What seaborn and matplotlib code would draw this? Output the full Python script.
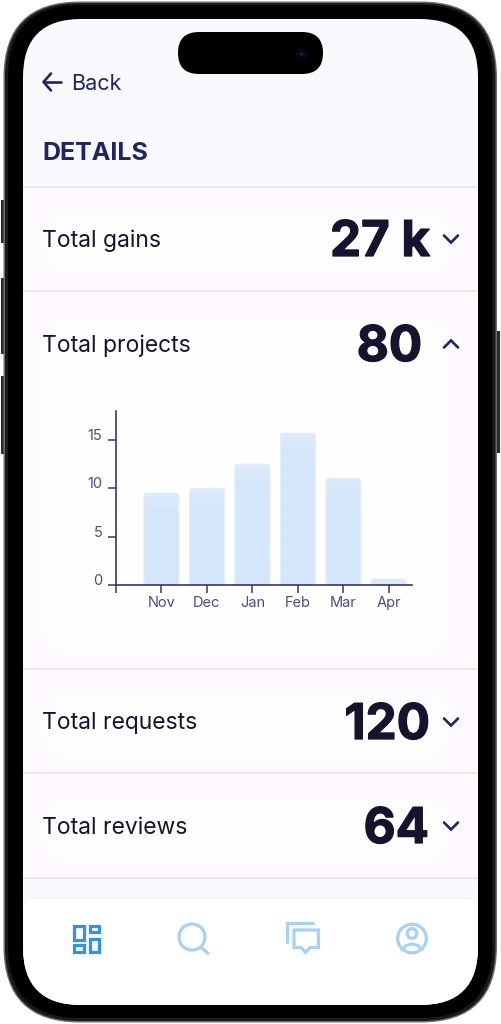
import matplotlib
matplotlib.use("Agg")
import matplotlib.pyplot as plt
import matplotlib.patheffects as pe
import numpy as np
import seaborn as sns
from matplotlib.colors import LinearSegmentedColormap
from matplotlib.patches import FancyBboxPatch, Rectangle, Circle, Polygon

months = ["Nov", "Dec", "Jan", "Feb", "Mar", "Apr"]
projects = [9.5, 10, 12.5, 15.7, 11, 0.6]
y_ticks = [0, 5, 10, 15]

row_labels = ["Total gains", "Total projects", "Total requests", "Total reviews"]
row_values = ["27 k", "80", "120", "64"]
row_text_y = [238, 343, 721, 825]
row_value_right = [430, 422, 430, 429]
row_lines = [186.5, 290.5, 669, 773, 878]

NAVY = "#1f2466"
INK = "#15132e"
TICK = "#4a4b88"
BAR = "#d4e7fa"
BAR_TOP = "#dcebfc"
FONT = "Inter"

sns.set_theme(style="white")
plt.rcParams["font.family"] = [FONT, "DejaVu Sans"]

fig = plt.figure(figsize=(5.01, 10.24), dpi=100, facecolor="white")
ui = fig.add_axes([0, 0, 1, 1])
ui.set_xlim(0, 501)
ui.set_ylim(1024, 0)
ui.axis("off")


def rbox(x0, y0, x1, y1, r, **kw):
    p = FancyBboxPatch((x0, y0), x1 - x0, y1 - y0,
                       boxstyle=f"round,pad=0,rounding_size={r}", **kw)
    ui.add_patch(p)
    return p


# phone body and side buttons
for x0, x1, y0, y1 in [(0.5, 4, 200, 243), (0.5, 4, 278, 354), (0.5, 4, 376, 454), (497, 500.5, 331, 453)]:
    ui.add_patch(Rectangle((x0, y0), x1 - x0, y1 - y0, fc="#2b2b2b", ec="none"))
rbox(3.5, 1.5, 497, 1022.5, 76, fc="#6e6e6e", ec="none")
rbox(5, 3, 495.5, 1021, 74, fc="#1a1a1a", ec="none")
rbox(8, 5, 492.5, 1018, 72, fc="black", ec="none")

# screen
screen = rbox(23, 19, 478, 1005, 58, fc="#faf9fe", ec="none")


def on_screen(artist):
    artist.set_clip_path(screen)
    return artist


on_screen(ui.add_patch(Rectangle((23, 187), 455, 691, fc="#fdf9fe", ec="none")))
# soft white centres of the rows
for y0, y1 in [(205, 285), (310, 664), (685, 768), (790, 872)]:
    for grow, a in [(0, 0.2), (-7, 0.25), (-14, 0.3), (-21, 0.7)]:
        rbox(32 - grow, y0 - grow, 462 + grow, y1 + grow, 30, fc="white", ec="none", alpha=a)
for y in row_lines:
    ui.plot([23, 478], [y, y], color="#e9e2ec", lw=1.1, solid_capstyle="butt")

# nav bar
on_screen(rbox(23, 898, 478, 1040, 10, fc="white", ec="#f5f3f9", lw=0.8))

# island and camera
rbox(178, 32, 323, 74, 21, fc="black", ec="none")
ui.add_patch(Circle((301.5, 54), 6, fc="#07070f", ec="none"))
ui.add_patch(Circle((301.5, 54), 2, fc="#15164a", ec="none"))

# header
ui.plot([44, 61], [82, 82], color=NAVY, lw=1.9, solid_capstyle="round")
ui.plot([51, 43.5, 51], [73.5, 82, 90.5], color=NAVY, lw=1.9, solid_capstyle="round", solid_joinstyle="round")
ui.text(71, 82, "Back", color=NAVY, fontsize=15.5, va="center_baseline", ha="left")
ui.text(42, 151.5, "DETAILS", color=NAVY, fontsize=18, fontweight="bold", va="center_baseline", ha="left")

# rows
for i, label in enumerate(row_labels):
    y = row_text_y[i]
    ui.text(42, y, label, color=INK, fontsize=16.5, va="center_baseline", ha="left")
    val = ui.text(row_value_right[i], y, row_values[i], color=INK, fontsize=35.5, fontweight="bold",
                  va="center_baseline", ha="right")
    # the original numbers are a bit heavier than Inter Bold
    val.set_path_effects([pe.withStroke(linewidth=0.9, foreground=INK)])
    dy = -3.5 if label == "Total projects" else 3.5
    ui.plot([444, 451, 458], [y + 1 - dy, y + 1 + dy, y + 1 - dy], color=NAVY, lw=1.9,
            solid_capstyle="round", solid_joinstyle="miter")

# nav icons
ACTIVE = "#2f93ee"
IDLE = "#a6d2f8"
for x0, y0, x1, y1 in [(74.5, 926, 84, 939.5), (90.5, 926, 99.5, 932), (74.5, 945, 84, 951.5), (90.5, 939, 99.5, 951.5)]:
    ui.add_patch(Rectangle((x0, y0), x1 - x0, y1 - y0, fc="none", ec=ACTIVE, lw=2.3))
ui.add_patch(Circle((192, 937), 13, fc="none", ec=IDLE, lw=2.3))
ui.plot([201, 208], [947, 953.5], color=IDLE, lw=2.3)
ui.plot([287, 287, 313], [942, 923, 923], color=IDLE, lw=2.3, solid_joinstyle="miter")
ui.add_patch(Polygon([(294, 930), (318.5, 930), (318.5, 947.5), (310, 947.5), (305.5, 952.5), (301, 947.5), (294, 947.5)],
                     closed=True, fc="none", ec=IDLE, lw=2.3))
ui.add_patch(Circle((412, 938.5), 14.3, fc="none", ec=IDLE, lw=2.3))
ui.add_patch(Circle((412, 933.5), 4.8, fc="none", ec=IDLE, lw=2.3))
ui.plot([402, 406, 412, 418, 422], [949.5, 945.5, 944, 945.5, 949.5], color=IDLE, lw=2.3)

# chart
ax = fig.add_axes([116 / 501, 1 - 585 / 1024, 296 / 501, 174 / 1024])
ax.patch.set_alpha(0)
sns.barplot(x=months, y=projects, order=months, color=BAR, saturation=1, width=0.77, ax=ax)
ax.set_xlim(-1, 5.51)
ax.set_ylim(0, 18)

# swap the square bars for rounded ones, same geometry, lighter towards the top
aspect = (18 / 174) / (6.51 / 296)
fade = LinearSegmentedColormap.from_list("fade", [BAR, BAR_TOP])
for bar in list(ax.patches):
    x, w, h = bar.get_x(), bar.get_width(), bar.get_height()
    bar.set_visible(False)
    box = FancyBboxPatch((x, 0), w, h, boxstyle="round,pad=0,rounding_size=0.07",
                         mutation_aspect=aspect, fc="none", ec="#e1eefc", lw=0.8)
    ax.add_patch(box)
    shade = np.clip((np.linspace(h, 0, 64) - (h - 2)) / 2, 0, 1).reshape(-1, 1)
    img = ax.imshow(shade, extent=(x, x + w, 0, h), origin="upper", aspect="auto", cmap=fade, vmin=0, vmax=1, zorder=1.5)
    img.set_clip_path(box)
    box.set_zorder(2)
ax.set_xlim(-1, 5.51)
ax.set_ylim(0, 18)

sns.despine(ax=ax)
for side in ["left", "bottom"]:
    ax.spines[side].set_color("#35366f")
    ax.spines[side].set_linewidth(1.2)
    ax.spines[side].set_zorder(3)
ax.set_xticks([-1] + list(range(len(months))))
ax.set_xticklabels([""] + months)
ax.set_yticks(y_ticks)
ax.tick_params(axis="both", length=5.8, width=1.1, color="#35366f", labelcolor=TICK, labelsize=10.5, bottom=True, left=True)
ax.tick_params(axis="y", pad=4)
ax.tick_params(axis="x", pad=10)
for lab in ax.get_yticklabels():
    lab.set_verticalalignment("baseline")
for lab in ax.get_xticklabels():
    lab.set_verticalalignment("baseline")
ax.set_xlabel("")
ax.set_ylabel("")

fig.savefig("out.png", dpi=100)
